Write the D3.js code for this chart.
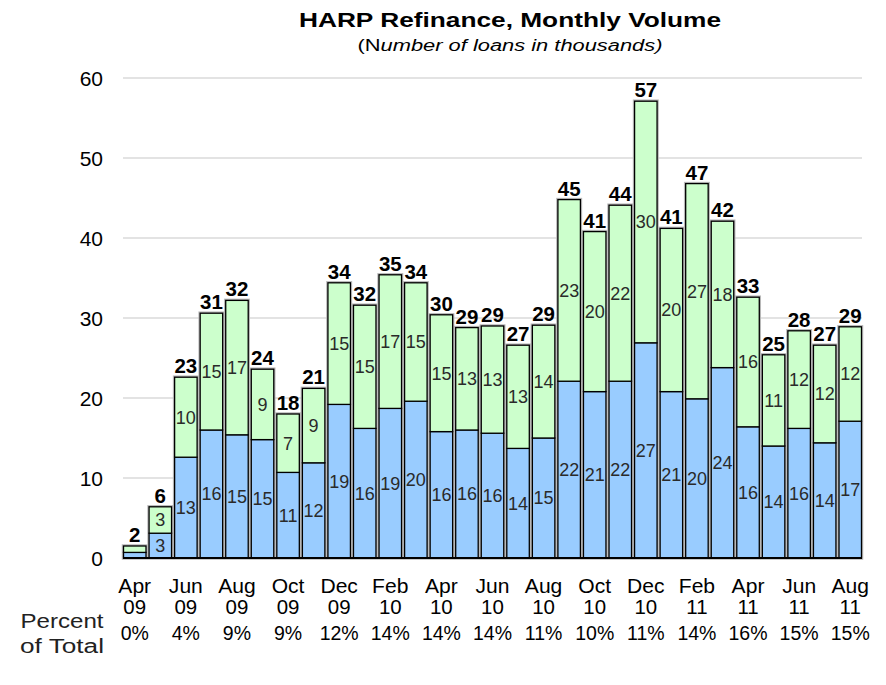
<!DOCTYPE html>
<html><head><meta charset="utf-8">
<script src="https://cdn.jsdelivr.net/npm/d3@7"></script>
<style>body{margin:0;background:#fff}svg{display:block}</style>
</head><body>
<svg id="c" width="886" height="685"></svg>
<script>
const months = ["Apr 09","May 09","Jun 09","Jul 09","Aug 09","Sep 09","Oct 09","Nov 09","Dec 09",
  "Jan 10","Feb 10","Mar 10","Apr 10","May 10","Jun 10","Jul 10","Aug 10","Sep 10","Oct 10","Nov 10","Dec 10",
  "Jan 11","Feb 11","Mar 11","Apr 11","May 11","Jun 11","Jul 11","Aug 11"];
const blueVals  = [0.7,3.1,12.6,16.0,15.4,14.8,10.7,11.9,19.2,16.2,18.7,19.6,15.8,16.0,15.6,13.7,15.0,22.1,20.8,22.1,26.9,20.8,19.9,23.8,16.4,14.0,16.2,14.4,17.1];
const greenVals = [0.8,3.3,10.0,14.6,16.8,8.8,7.3,9.3,15.2,15.4,16.7,14.8,14.6,12.8,13.4,12.9,14.1,22.7,20.0,22.0,30.2,20.4,26.9,18.3,16.2,11.4,12.2,12.2,11.8];
const tickMonths = ["Apr 09","Jun 09","Aug 09","Oct 09","Dec 09","Feb 10","Apr 10","Jun 10","Aug 10","Oct 10","Dec 10","Feb 11","Apr 11","Jun 11","Aug 11"];
const percentOfTotal = ["0%","4%","9%","9%","12%","14%","14%","14%","11%","10%","11%","14%","16%","15%","15%"];
const yTicks = [0,10,20,30,40,50,60];

const svg = d3.select("#c");
const pLeft = 123, pRight = 862, pTop = 78, pBottom = 558;
const x = d3.scaleBand().domain(months).range([pLeft, pRight]).paddingInner(0.12).paddingOuter(0.02);
const y = d3.scaleLinear().domain([0, 60]).range([pBottom, pTop]);
const font = "Liberation Sans, Arial, sans-serif";

// horizontally stretch text glyphs by factor k
function stretch(sel, k) {
  sel.each(function () {
    const w = this.getComputedTextLength();
    d3.select(this).attr("textLength", w * k).attr("lengthAdjust", "spacingAndGlyphs");
  });
}

// gridlines
svg.append("g").selectAll("line").data(yTicks.filter(d => d > 0)).join("line")
  .attr("x1", pLeft).attr("x2", pRight).attr("y1", d => y(d)).attr("y2", d => y(d))
  .attr("stroke", "#c8c8c8").attr("stroke-width", 1.2);

// y axis labels
const yAxis = d3.axisLeft(y).tickValues(yTicks).tickSize(0).tickPadding(0);
const ya = svg.append("g").attr("transform", `translate(103,0)`).call(yAxis);
ya.select(".domain").remove();
ya.selectAll("text").attr("font-family", font).attr("font-size", 21).attr("fill", "#000").attr("dy", "0.36em");

const data = months.map((m, i) => ({ m, b: blueVals[i], g: greenVals[i], t: blueVals[i] + greenVals[i] }));

const bars = svg.append("g");
// gray rim
bars.selectAll("rect.rim").data(data).join("rect").attr("class", "rim")
  .attr("x", d => x(d.m)).attr("width", x.bandwidth())
  .attr("y", d => y(d.t)).attr("height", d => y(0) - y(d.t))
  .attr("fill", "none").attr("stroke", "#b8b8b8").attr("stroke-width", 3.5);
bars.selectAll("rect.blue").data(data).join("rect").attr("class", "blue")
  .attr("x", d => x(d.m)).attr("width", x.bandwidth())
  .attr("y", d => y(d.b)).attr("height", d => y(0) - y(d.b))
  .attr("fill", "#99ccff").attr("stroke", "#000").attr("stroke-width", 1.3);
bars.selectAll("rect.green").data(data).join("rect").attr("class", "green")
  .attr("x", d => x(d.m)).attr("width", x.bandwidth())
  .attr("y", d => y(d.t)).attr("height", d => y(d.b) - y(d.t))
  .attr("fill", "#ccffcc").attr("stroke", "#000").attr("stroke-width", 1.3);

// inner labels
const lab = svg.append("g").attr("font-family", font).attr("font-size", 18).attr("fill", "#2a2a2a")
  .attr("text-anchor", "middle");
lab.selectAll("text.b").data(data.filter(d => d.b >= 2)).join("text").attr("class", "b")
  .attr("x", d => x(d.m) + x.bandwidth() / 2).attr("y", d => (y(0) + y(d.b)) / 2).attr("dy", "0.36em")
  .text(d => Math.round(d.b));
lab.selectAll("text.g").data(data.filter(d => d.g >= 2)).join("text").attr("class", "g")
  .attr("x", d => x(d.m) + x.bandwidth() / 2).attr("y", d => (y(d.b) + y(d.t)) / 2).attr("dy", "0.36em")
  .text(d => Math.round(d.g));

// total labels
svg.append("g").attr("font-family", font).attr("font-size", 20.5).attr("font-weight", "bold").attr("fill", "#000")
  .attr("text-anchor", "middle")
  .selectAll("text").data(data).join("text")
  .attr("x", d => x(d.m) + x.bandwidth() / 2).attr("y", d => y(d.t) - 4)
  .text(d => Math.round(d.t));

// baseline
svg.append("line").attr("x1", pLeft).attr("x2", pRight).attr("y1", y(0)).attr("y2", y(0))
  .attr("stroke", "#000").attr("stroke-width", 2);

// x tick labels
const xl = svg.append("g").attr("font-family", font).attr("font-size", 19.5).attr("fill", "#000").attr("text-anchor", "middle");
tickMonths.forEach((m, i) => {
  const cx = x(m) + x.bandwidth() / 2;
  const [mon, yr] = m.split(" ");
  xl.append("text").attr("class", "mon").attr("x", cx).attr("y", 593).text(mon);
  xl.append("text").attr("class", "yr").attr("x", cx).attr("y", 614).text(yr);
  xl.append("text").attr("class", "pct").attr("x", cx).attr("y", 640).text(percentOfTotal[i]);
});
stretch(xl.selectAll("text.mon"), 1.08);
stretch(xl.selectAll("text.yr"), 1.05);

const pt1 = svg.append("text").attr("x", 62).attr("y", 628).attr("text-anchor", "middle").attr("font-family", font)
  .attr("font-size", 20).attr("fill", "#222").text("Percent");
const pt2 = svg.append("text").attr("x", 62).attr("y", 653).attr("text-anchor", "middle").attr("font-family", font)
  .attr("font-size", 20).attr("fill", "#222").text("of  Total");
pt1.attr("textLength", 83).attr("lengthAdjust", "spacingAndGlyphs");
pt2.attr("textLength", 84).attr("lengthAdjust", "spacingAndGlyphs");

// title
svg.append("text").attr("x", 510).attr("y", 27).attr("text-anchor", "middle").attr("font-family", font)
  .attr("font-size", 21).attr("font-weight", "bold")
  .attr("textLength", 422).attr("lengthAdjust", "spacingAndGlyphs")
  .text("HARP Refinance, Monthly Volume");
const sub = svg.append("text").attr("x", 510).attr("y", 51).attr("text-anchor", "middle").attr("font-family", font)
  .attr("font-size", 16).attr("textLength", 305).attr("lengthAdjust", "spacingAndGlyphs");
sub.append("tspan").text("(N");
sub.append("tspan").attr("font-style", "italic").text("umber  of  loans  in  thousands)");
</script>
</body></html>
